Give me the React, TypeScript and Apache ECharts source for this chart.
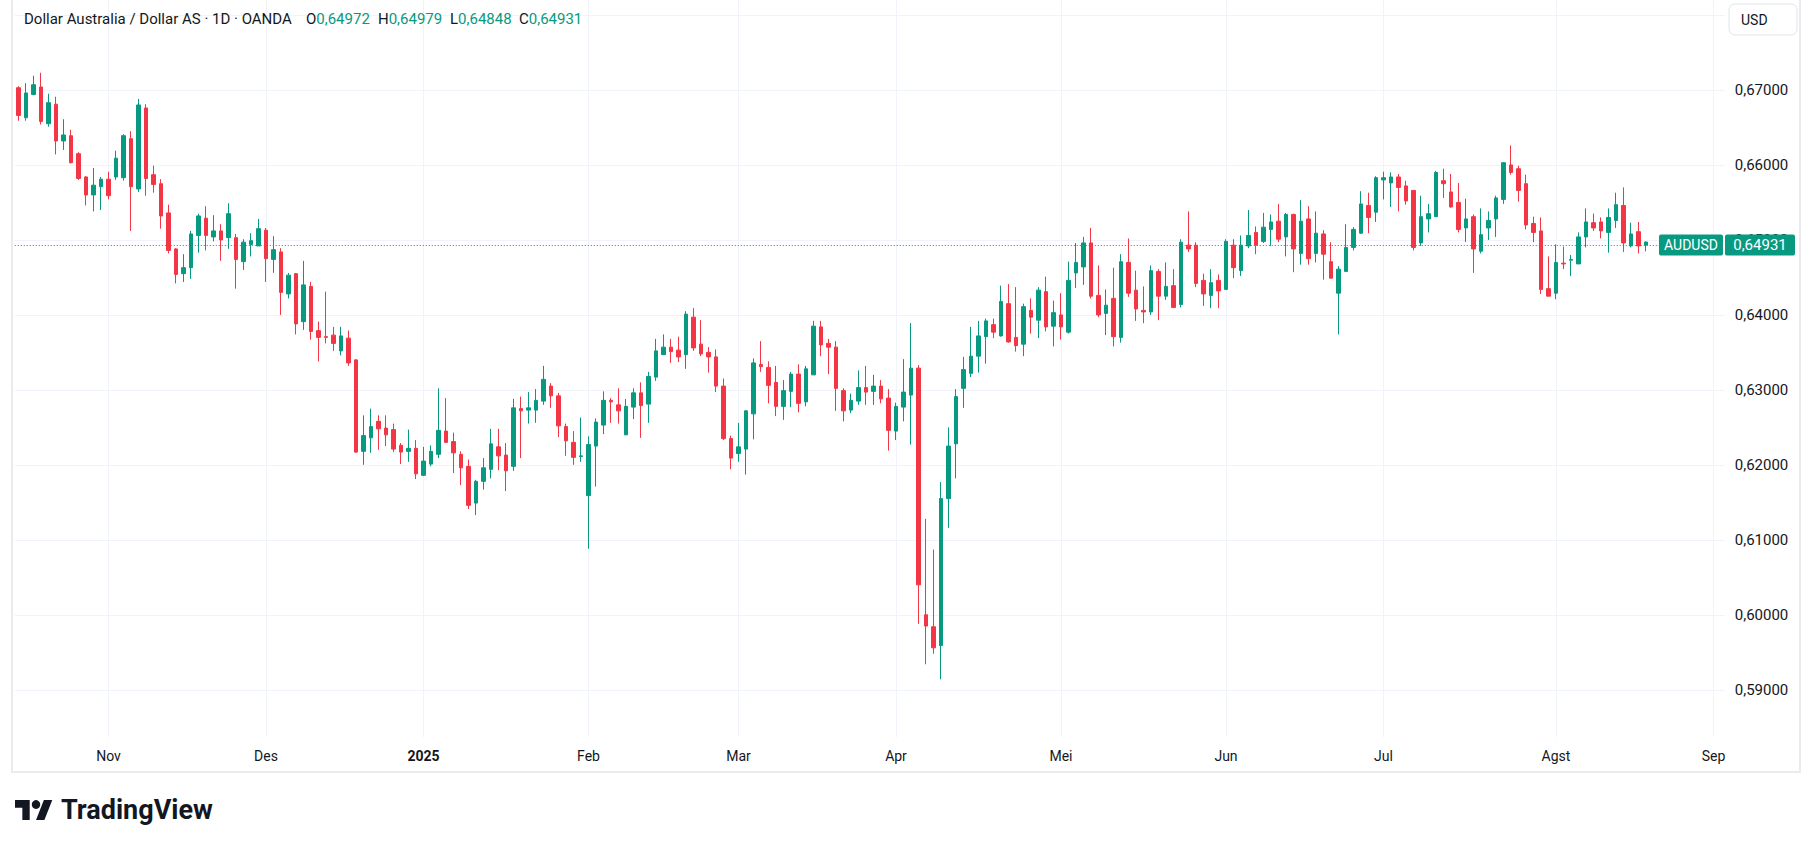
import React, { useEffect, useRef } from "react";
import * as echarts from "echarts";

// ---------- style constants ----------
const UP = "#089981";
const DOWN = "#F23645";
const TEXT = "#131722";
const GRID = "#f0f3fa";
const FONT = "Roboto, 'Noto Sans', sans-serif";

// ---------- texts ----------
const symbolTitle = "Dollar Australia / Dollar AS · 1D · OANDA";
const seriesName = "AUDUSD";
const currency = "USD";
const brand = "TradingView";
const monthNames = ["Jan", "Feb", "Mar", "Apr", "Mei", "Jun", "Jul", "Agst", "Sep", "Okt", "Nov", "Des"];

// ---------- calendar ----------
const firstDate = [2024, 9, 16]; // 16 Oct 2024 (month is 0-based)
const closedDays = ["2024-12-25", "2025-01-01"];
const futureSlots = 10;

// ---------- price axis ----------
const priceMin = 0.5837;
const priceMax = 0.682;
const hiddenPriceLabels = [0.68]; // covered by the currency button in the reference

// ---------- daily bars: [open, high, low, close] ----------
const oct2024 = [
  [0.6703, 0.6705, 0.6659, 0.6666], [0.6663, 0.6709, 0.6659, 0.6696], [0.6694, 0.6719, 0.6693, 0.6707],
  [0.6704, 0.6723, 0.6654, 0.6658], [0.6655, 0.6695, 0.6651, 0.6683], [0.6681, 0.6691, 0.6614, 0.6632],
  [0.6632, 0.6661, 0.662, 0.664], [0.6639, 0.6647, 0.6602, 0.6603], [0.6615, 0.6617, 0.658, 0.6582],
  [0.6584, 0.6585, 0.6546, 0.656], [0.656, 0.6596, 0.6538, 0.6573], [0.6571, 0.6584, 0.654, 0.6581],
];
const nov2024 = [
  [0.6581, 0.6591, 0.6554, 0.6559], [0.6584, 0.6619, 0.658, 0.6609], [0.6583, 0.6641, 0.6579, 0.6639],
  [0.6635, 0.6645, 0.6512, 0.6571], [0.6568, 0.6688, 0.6564, 0.668], [0.6676, 0.6681, 0.6559, 0.6582],
  [0.6587, 0.6599, 0.6563, 0.6574], [0.6575, 0.6581, 0.6515, 0.6532], [0.6536, 0.6547, 0.6482, 0.6486],
  [0.6488, 0.6489, 0.6442, 0.6454], [0.6455, 0.6481, 0.6444, 0.6463], [0.6463, 0.6512, 0.6448, 0.6508],
  [0.6506, 0.6535, 0.6483, 0.6532], [0.6529, 0.6545, 0.6486, 0.6506], [0.6504, 0.6533, 0.6498, 0.6512],
  [0.6512, 0.6521, 0.6472, 0.65], [0.6503, 0.6549, 0.6488, 0.6535], [0.6503, 0.6508, 0.6435, 0.6474],
  [0.6471, 0.6501, 0.646, 0.6497], [0.6494, 0.6509, 0.6478, 0.6499], [0.6492, 0.6528, 0.6492, 0.6515],
];
const dec2024 = [
  [0.6513, 0.6516, 0.6444, 0.6475], [0.6474, 0.6505, 0.6456, 0.6487], [0.6484, 0.6489, 0.64, 0.643],
  [0.6428, 0.6456, 0.6422, 0.6453], [0.6455, 0.6456, 0.6374, 0.6388], [0.6391, 0.6472, 0.638, 0.644],
  [0.6438, 0.6444, 0.6367, 0.6378], [0.6379, 0.6391, 0.6338, 0.637], [0.6371, 0.6431, 0.6362, 0.637],
  [0.6373, 0.6384, 0.6352, 0.6362], [0.6352, 0.6384, 0.6346, 0.6372], [0.6369, 0.6379, 0.6332, 0.6336],
  [0.634, 0.6341, 0.6216, 0.6217], [0.6218, 0.6266, 0.62, 0.6239], [0.6236, 0.6275, 0.6216, 0.6251],
  [0.6258, 0.6266, 0.622, 0.6248], [0.6249, 0.6266, 0.6225, 0.624], [0.6247, 0.6255, 0.6217, 0.6221],
  [0.6226, 0.6229, 0.6201, 0.6217], [0.6218, 0.6247, 0.6204, 0.6222], [0.6222, 0.6233, 0.6181, 0.6188],
];
const jan2025 = [
  [0.6186, 0.6224, 0.6185, 0.6205], [0.6201, 0.6226, 0.6198, 0.6218], [0.6214, 0.6302, 0.6209, 0.6246],
  [0.6245, 0.6289, 0.6229, 0.623], [0.6231, 0.6243, 0.6189, 0.6216], [0.6214, 0.6218, 0.6173, 0.6196],
  [0.6198, 0.6207, 0.6141, 0.6146], [0.6149, 0.618, 0.6133, 0.6178], [0.6178, 0.6209, 0.6167, 0.6196],
  [0.6194, 0.6248, 0.6182, 0.6228], [0.6224, 0.6248, 0.6193, 0.6212], [0.6213, 0.6229, 0.6165, 0.6192],
  [0.6198, 0.6288, 0.6192, 0.6276], [0.6275, 0.6291, 0.6209, 0.6272], [0.6273, 0.6297, 0.6255, 0.6276],
  [0.6273, 0.6301, 0.6256, 0.6286], [0.6285, 0.6332, 0.628, 0.6314], [0.6305, 0.6309, 0.6276, 0.6292],
  [0.6292, 0.6296, 0.6237, 0.6252], [0.6251, 0.6255, 0.6212, 0.6232], [0.623, 0.6245, 0.62, 0.621],
  [0.6211, 0.6263, 0.6204, 0.6212],
];
const feb2025 = [
  [0.6159, 0.6238, 0.6088, 0.6227], [0.6225, 0.6262, 0.6171, 0.6257], [0.6253, 0.6298, 0.6241, 0.6286],
  [0.6286, 0.6289, 0.6256, 0.6284], [0.628, 0.6302, 0.6255, 0.6272], [0.624, 0.6288, 0.624, 0.6278],
  [0.6277, 0.6302, 0.6261, 0.6296], [0.6296, 0.631, 0.6236, 0.6279], [0.6281, 0.6324, 0.6256, 0.6318],
  [0.6317, 0.6368, 0.6312, 0.6352], [0.6347, 0.6374, 0.6347, 0.6357], [0.6357, 0.6368, 0.6336, 0.6351],
  [0.6353, 0.6371, 0.6337, 0.6344], [0.6347, 0.6405, 0.6328, 0.6401], [0.6397, 0.6409, 0.6352, 0.6356],
  [0.6361, 0.6393, 0.6345, 0.6348], [0.635, 0.6357, 0.6323, 0.6344], [0.6344, 0.6354, 0.6297, 0.6305],
  [0.6305, 0.6315, 0.6233, 0.6235], [0.6235, 0.6239, 0.6194, 0.6209],
];
const mar2025 = [
  [0.6215, 0.6256, 0.6204, 0.6224], [0.6221, 0.6273, 0.6187, 0.6272], [0.6268, 0.6342, 0.6234, 0.6336],
  [0.6334, 0.6365, 0.6324, 0.6331], [0.633, 0.6338, 0.6282, 0.6306], [0.631, 0.6332, 0.6265, 0.6278],
  [0.6278, 0.6313, 0.626, 0.6299], [0.6298, 0.6324, 0.6277, 0.6321], [0.6321, 0.6334, 0.627, 0.6282],
  [0.6284, 0.6332, 0.6278, 0.6328], [0.632, 0.6392, 0.632, 0.6385], [0.6384, 0.6392, 0.6345, 0.636],
  [0.6362, 0.6368, 0.6321, 0.6357], [0.6357, 0.6365, 0.6272, 0.6302], [0.6299, 0.6302, 0.6258, 0.6272],
  [0.6273, 0.6295, 0.6269, 0.6286], [0.6285, 0.6326, 0.628, 0.6303], [0.6303, 0.6332, 0.628, 0.6297],
  [0.6298, 0.632, 0.628, 0.6305], [0.6305, 0.6313, 0.6282, 0.6288], [0.6289, 0.6301, 0.6219, 0.6246],
];
const apr2025 = [
  [0.6245, 0.6283, 0.6233, 0.6278], [0.6277, 0.6341, 0.6258, 0.6297], [0.6293, 0.6389, 0.6227, 0.6329],
  [0.6329, 0.6333, 0.5988, 0.604], [0.6, 0.6128, 0.5934, 0.5985], [0.5984, 0.6087, 0.5948, 0.5956],
  [0.5959, 0.6177, 0.5914, 0.6155], [0.6155, 0.625, 0.6116, 0.6225], [0.6228, 0.6301, 0.6182, 0.6291],
  [0.6302, 0.6344, 0.6276, 0.6327], [0.6322, 0.6384, 0.6317, 0.6345], [0.6345, 0.6392, 0.6323, 0.6372],
  [0.6371, 0.6395, 0.6335, 0.6392], [0.6387, 0.6395, 0.6369, 0.6377], [0.6372, 0.6439, 0.6371, 0.6418],
  [0.6415, 0.6441, 0.6363, 0.6364], [0.637, 0.6437, 0.6351, 0.6359], [0.6361, 0.6415, 0.6345, 0.6411],
  [0.6406, 0.6422, 0.6375, 0.6397], [0.6393, 0.6437, 0.6369, 0.6433], [0.6431, 0.6451, 0.6378, 0.6384],
  [0.6385, 0.6419, 0.6358, 0.6403],
];
const may2025 = [
  [0.64, 0.6429, 0.6367, 0.6384], [0.6377, 0.6471, 0.6375, 0.6446], [0.6456, 0.6496, 0.6436, 0.647],
  [0.6464, 0.6504, 0.644, 0.6496], [0.6496, 0.6516, 0.6422, 0.6425], [0.6426, 0.6466, 0.6397, 0.64],
  [0.6402, 0.6434, 0.6373, 0.6413], [0.6422, 0.6463, 0.6358, 0.6371], [0.637, 0.6481, 0.6363, 0.6471],
  [0.647, 0.6502, 0.6424, 0.6429], [0.6433, 0.6459, 0.6392, 0.6408], [0.6406, 0.6438, 0.6389, 0.6404],
  [0.6404, 0.6466, 0.64, 0.6459], [0.6458, 0.6461, 0.6393, 0.6425], [0.6425, 0.647, 0.642, 0.6438],
  [0.6439, 0.6461, 0.6409, 0.641], [0.6414, 0.6501, 0.641, 0.6497], [0.6493, 0.6538, 0.6484, 0.6488],
  [0.6493, 0.6497, 0.6437, 0.6442], [0.6446, 0.6455, 0.6412, 0.6428], [0.6426, 0.6461, 0.6409, 0.6443],
  [0.6446, 0.6454, 0.6409, 0.6432],
];
const jun2025 = [
  [0.6434, 0.6501, 0.6434, 0.6498], [0.6493, 0.6501, 0.6449, 0.6463], [0.6459, 0.6506, 0.6452, 0.6493],
  [0.6492, 0.654, 0.6489, 0.6506], [0.651, 0.6518, 0.6481, 0.6493], [0.6498, 0.6536, 0.6496, 0.6517],
  [0.6514, 0.6534, 0.6492, 0.6524], [0.6525, 0.6548, 0.6497, 0.6501], [0.6504, 0.6536, 0.6478, 0.6534],
  [0.6534, 0.6535, 0.6457, 0.6488], [0.6482, 0.6553, 0.6467, 0.6525], [0.6528, 0.6545, 0.6467, 0.6475],
  [0.6482, 0.6538, 0.647, 0.6509], [0.6508, 0.6513, 0.6447, 0.6481], [0.6471, 0.6497, 0.6449, 0.6449],
  [0.6429, 0.6465, 0.6374, 0.6461], [0.6458, 0.6521, 0.6458, 0.649], [0.649, 0.6517, 0.6486, 0.6514],
  [0.6509, 0.6565, 0.6508, 0.6548], [0.6546, 0.6563, 0.6509, 0.653], [0.6537, 0.6585, 0.6524, 0.6583],
];
const jul2025 = [
  [0.658, 0.6591, 0.6554, 0.6583], [0.6576, 0.659, 0.6544, 0.6584], [0.6584, 0.6588, 0.6538, 0.657],
  [0.6572, 0.6579, 0.6547, 0.6552], [0.6566, 0.6566, 0.6486, 0.649], [0.6496, 0.6559, 0.6492, 0.6531],
  [0.6528, 0.6548, 0.651, 0.6535], [0.6531, 0.6592, 0.6531, 0.659], [0.6579, 0.6595, 0.6556, 0.6575],
  [0.6564, 0.6588, 0.6543, 0.6544], [0.655, 0.6576, 0.651, 0.6514], [0.6516, 0.6555, 0.6497, 0.6528],
  [0.6531, 0.6534, 0.6456, 0.6488], [0.6485, 0.6542, 0.6482, 0.6507], [0.6516, 0.6538, 0.65, 0.6526],
  [0.6528, 0.6559, 0.6504, 0.6556], [0.6554, 0.6603, 0.6548, 0.6603], [0.66, 0.6626, 0.6587, 0.659],
  [0.6595, 0.6599, 0.6551, 0.6566], [0.6575, 0.6587, 0.6514, 0.652], [0.6522, 0.6531, 0.6497, 0.651],
  [0.6512, 0.653, 0.6428, 0.6434], [0.6435, 0.6478, 0.6425, 0.6425],
];
const aug2025 = [
  [0.6429, 0.6494, 0.6421, 0.647], [0.6469, 0.6491, 0.6461, 0.6468], [0.6473, 0.648, 0.6452, 0.6474],
  [0.6468, 0.651, 0.6468, 0.6504], [0.6504, 0.6542, 0.649, 0.6524], [0.6523, 0.6535, 0.6512, 0.6516],
  [0.6524, 0.653, 0.6502, 0.6512], [0.651, 0.6542, 0.6483, 0.653], [0.6526, 0.6563, 0.6516, 0.6547],
  [0.6546, 0.657, 0.6484, 0.6496], [0.6492, 0.6523, 0.649, 0.6508], [0.6511, 0.6524, 0.6482, 0.6492],
  [0.64972, 0.64979, 0.64848, 0.64931],
];

const bars = [
  ...oct2024, ...nov2024, ...dec2024, ...jan2025, ...feb2025, ...mar2025,
  ...apr2025, ...may2025, ...jun2025, ...jul2025, ...aug2025,
];

const fmt = (v: number) => v.toFixed(5).replace(".", ",");

function tradingDays(count: number): string[] {
  const out: string[] = [];
  let t = Date.UTC(firstDate[0], firstDate[1], firstDate[2]);
  while (out.length < count) {
    const d = new Date(t);
    const dow = d.getUTCDay();
    const iso = d.toISOString().slice(0, 10);
    if (dow !== 0 && dow !== 6 && closedDays.indexOf(iso) < 0) out.push(iso);
    t += 86400000;
  }
  return out;
}

export default function App() {
  const ref = useRef<HTMLDivElement>(null);

  useEffect(() => {
    const el = ref.current;
    if (!el) return;
    const chart = echarts.init(el, null, { renderer: "svg" });

    const categories = tradingDays(bars.length + futureSlots);
    const monthStarts: number[] = [];
    for (let i = 1; i < categories.length; i++) {
      if (categories[i].slice(5, 7) !== categories[i - 1].slice(5, 7)) monthStarts.push(i);
    }
    const monthLabel = (i: number) => {
      const c = categories[i];
      const m = parseInt(c.slice(5, 7), 10) - 1;
      return m === 0 ? "{y|" + c.slice(0, 4) + "}" : monthNames[m];
    };

    const last = bars[bars.length - 1];
    const candleData = bars.map((b, i) => {
      const value = [b[0], b[3], b[2], b[1]];
      if (i === bars.length - 1) {
        // the live bar is drawn in the "up" colour in the reference
        return { value, itemStyle: { color0: UP, borderColor0: UP } };
      }
      return value;
    });

    chart.setOption({
      animation: false,
      backgroundColor: "#ffffff",
      textStyle: { fontFamily: FONT },
      grid: { left: 14.75, top: 0, width: 1710, height: 737, containLabel: false, outerBoundsMode: "none" },
      xAxis: {
        type: "category",
        data: categories,
        boundaryGap: true,
        axisLine: { show: false },
        axisTick: { show: false },
        splitLine: { show: false },
        axisLabel: {
          interval: (idx: number) => monthStarts.indexOf(idx) >= 0,
          formatter: (_v: string, idx: number) => monthLabel(idx),
          color: TEXT,
          fontSize: 14,
          fontFamily: FONT,
          margin: 12,
          hideOverlap: false,
          rich: { y: { fontWeight: "bold", fontSize: 14, color: TEXT, fontFamily: FONT } },
        },
      },
      yAxis: {
        type: "value",
        position: "right",
        min: priceMin,
        max: priceMax,
        splitNumber: 10,
        axisLine: { show: false },
        axisTick: { show: false },
        splitLine: { showMinLine: false, showMaxLine: false, lineStyle: { color: GRID, width: 1 } },
        axisLabel: {
          formatter: (v: number) =>
            hiddenPriceLabels.some((h) => Math.abs(h - v) < 1e-6) ? "" : fmt(v),
          color: TEXT,
          fontSize: 15,
          fontFamily: FONT,
          margin: 10,
          showMinLabel: false,
          showMaxLabel: false,
        },
      },
      series: [
        {
          name: "monthGrid",
          type: "line",
          data: [],
          z: 0,
          silent: true,
          markLine: {
            z: 0,
            silent: true,
            symbol: ["none", "none"],
            label: { show: false },
            lineStyle: { color: GRID, width: 1, type: "solid" },
            data: monthStarts.map((i) => ({ xAxis: categories[i] })),
          },
        },
        {
          name: seriesName,
          type: "candlestick",
          z: 3,
          barWidth: 4,
          data: candleData,
          itemStyle: { color: UP, color0: DOWN, borderColor: UP, borderColor0: DOWN, borderWidth: 1 },
          markLine: {
            z: 5,
            silent: true,
            precision: 5,
            symbol: ["none", "none"],
            label: { show: false },
            lineStyle: { color: UP, width: 1, type: [1, 2] },
            data: [{ yAxis: last[3] }],
          },
        },
      ],
    });

    const yLast = chart.convertToPixel({ yAxisIndex: 0 }, last[3]) as number;
    const ohlcX = [306, 378, 450, 519];
    const ohlcKeys = ["O", "H", "L", "C"];
    const headerY = 18.5;

    const elements: any[] = [
      {
        type: "rect",
        silent: true,
        z: 0,
        shape: { x: 12, y: -2, width: 1788, height: 774 },
        style: { fill: "none", stroke: "#eaebef", lineWidth: 2 },
      },
      {
        type: "text",
        z: 100,
        x: 24,
        y: headerY,
        style: { text: symbolTitle, fill: TEXT, fontSize: 15, fontFamily: FONT, verticalAlign: "middle" },
      },
      ...ohlcKeys.map((k, i) => ({
        type: "text",
        z: 100,
        x: ohlcX[i],
        y: headerY,
        style: {
          text: "{k|" + k + "}{v|" + fmt(last[i]) + "}",
          verticalAlign: "middle",
          fontSize: 15,
          fontFamily: FONT,
          rich: {
            k: { fill: TEXT, fontSize: 15, fontFamily: FONT },
            v: { fill: UP, fontSize: 15, fontFamily: FONT },
          },
        },
      })),
      {
        type: "rect",
        z: 100,
        shape: { x: 1729, y: 4, width: 68, height: 31, r: 6 },
        style: { fill: "#ffffff", stroke: "#e0e3eb", lineWidth: 1 },
      },
      {
        type: "text",
        z: 101,
        x: 1741,
        y: 19.5,
        style: { text: currency, fill: TEXT, fontSize: 14, fontFamily: FONT, verticalAlign: "middle" },
      },
      {
        type: "rect",
        z: 100,
        shape: { x: 1659, y: yLast - 10.5, width: 64, height: 21, r: 2 },
        style: { fill: UP },
      },
      {
        type: "text",
        z: 101,
        x: 1691,
        y: yLast,
        style: { text: seriesName, fill: "#ffffff", fontSize: 14, fontFamily: FONT, align: "center", verticalAlign: "middle" },
      },
      {
        type: "rect",
        z: 100,
        shape: { x: 1725, y: yLast - 10.5, width: 70, height: 21, r: 2 },
        style: { fill: UP },
      },
      {
        type: "text",
        z: 101,
        x: 1760,
        y: yLast,
        style: { text: fmt(last[3]), fill: "#ffffff", fontSize: 15, fontFamily: FONT, align: "center", verticalAlign: "middle" },
      },
      {
        type: "group",
        z: 100,
        x: 15,
        y: 795.6,
        scaleX: 1.05,
        scaleY: 1.11,
        children: [
          { type: "polygon", shape: { points: [[0, 4], [14, 4], [14, 22], [7, 22], [7, 11], [0, 11]] }, style: { fill: TEXT } },
          { type: "circle", shape: { cx: 20, cy: 8, r: 4 }, style: { fill: TEXT } },
          { type: "polygon", shape: { points: [[27.5, 4], [35.5, 4], [28, 22], [20, 22]] }, style: { fill: TEXT } },
        ],
      },
      {
        type: "text",
        z: 100,
        x: 61,
        y: 810,
        style: { text: brand, fill: TEXT, fontSize: 27, fontWeight: "bold", fontFamily: FONT, verticalAlign: "middle" },
      },
    ];

    chart.setOption({ graphic: { elements } });

    return () => {
      chart.dispose();
    };
  }, []);

  return (
    <div
      ref={ref}
      style={{ position: "fixed", left: 0, top: 0, width: 1813, height: 847, background: "#ffffff" }}
    />
  );
}
